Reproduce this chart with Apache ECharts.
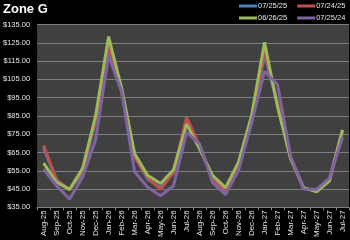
<!DOCTYPE html>
<html><head><meta charset="utf-8">
<script src="https://cdn.jsdelivr.net/npm/echarts@6/dist/echarts.min.js"></script>
<style>html,body{margin:0;padding:0;background:#000;}#c{width:350px;height:240px;}</style>
</head><body><div id="c"></div>
<script>
var categories = ['Aug-25','Sep-25','Oct-25','Nov-25','Dec-25','Jan-26','Feb-26','Mar-26','Apr-26','May-26','Jun-26','Jul-26','Aug-26','Sep-26','Oct-26','Nov-26','Dec-26','Jan-27','Feb-27','Mar-27','Apr-27','May-27','Jun-27','Jul-27'];
var s072525 = [67.4,50,44.5,54,82,122,99,63,50.5,45.7,54,82,68.5,50.5,43.8,56.5,82.5,118.5,91,62,45.5,44,50.5,77];
var s072425 = [68.8,49.8,44.6,55,83.2,124,99,62.5,51.3,44.8,54.3,84.2,68.8,50.7,44.2,57,83,120.3,92,62.5,45.5,44,50.5,77.4];
var s062625 = [59.2,48.7,44.8,56.3,85,128.4,100.4,64.5,52.5,48,55.6,80.5,67,52.5,45.8,59.8,85,125.3,90,61.8,45.8,43.5,49.5,77.4];
var s072524 = [55.8,46.8,39.5,51.5,72,117.9,98.3,54.5,46,41.3,46.8,76,69.7,48.5,42,55.2,81,109.4,102.2,63,45,44.8,51,73.3];
var yTicks = {min:35, max:135, interval:10};

var names = ['07/25/25','07/24/25','06/26/25','07/25/24'];
var colors = ['#4F81BD','#C0504D','#9BBB59','#8064A2'];
var datas = [s072525, s072425, s062625, s072524];
var chart = echarts.init(document.getElementById('c'));
var font = 'Liberation Sans, Arial, sans-serif';
function mkLegend(items, top){
  return {data: items, orient:'horizontal', top: top, left: 239, width: 140, itemGap: 10, itemWidth: 18, itemHeight: 3, icon: 'rect',
    textStyle:{color:'#e6e6e6', fontSize:7.5, fontFamily:font, padding:[0,0,0,-4]}, padding:0};
}
chart.setOption({
  backgroundColor:'#000',
  animation:false,
  title:{text:'Zone G', left:3, top:3, padding:0, textStyle:{color:'#fff', fontSize:13, fontWeight:'bold', fontFamily:font}},
  legend:[mkLegend([names[0],names[1]], 2), mkLegend([names[2],names[3]], 14)],
  grid:{left:37, top:24.5, width:312, height:184.5, show:true, backgroundColor:'#404040', borderWidth:0},
  xAxis:{type:'category', data:categories, boundaryGap:true,
    axisLine:{show:true, lineStyle:{color:'#808080', width:1}},
    axisTick:{show:true, length:3, lineStyle:{color:'#808080'}},
    axisLabel:{rotate:90, color:'#e6e6e6', fontSize:8, fontFamily:font, margin:3, interval:0}},
  yAxis:{type:'value', min:yTicks.min, max:yTicks.max, interval:yTicks.interval,
    axisLine:{show:false}, axisTick:{show:false},
    splitLine:{lineStyle:{color:'#7f7f7f', width:1}},
    axisLabel:{color:'#e6e6e6', fontSize:7.5, fontFamily:font, margin:7, formatter:function(v){return '$'+v.toFixed(2);}}},
  series: datas.map(function(d,i){
    return {name:names[i], type:'line', data:d, symbol:'none', lineStyle:{color:colors[i], width:3}, itemStyle:{color:colors[i]}};
  })
});
</script></body></html>
